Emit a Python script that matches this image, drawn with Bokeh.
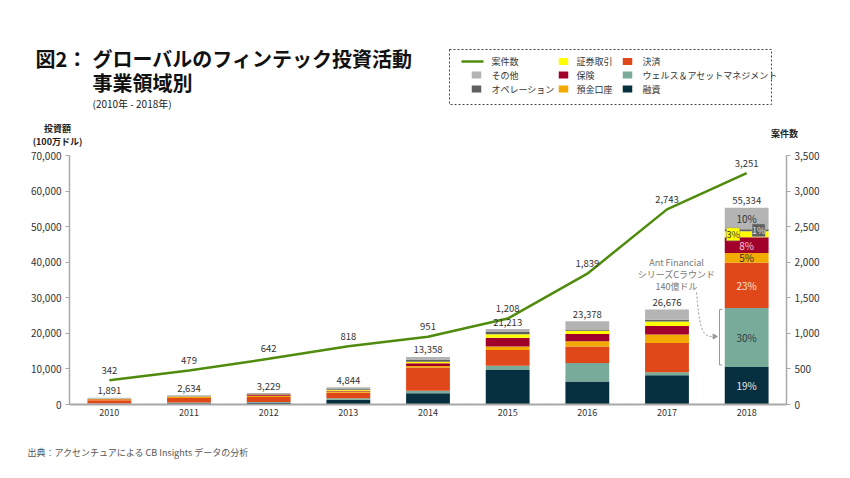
import math
from bokeh.plotting import figure
from bokeh.layouts import column, row
from bokeh.models import (Range1d, LinearAxis, FixedTicker, NumeralTickFormatter,
                          Label, ColumnDataSource)
from bokeh.core.properties import value
from bokeh.embed import file_html
from bokeh.resources import INLINE

# ---------------- data ----------------
years = [2010, 2011, 2012, 2013, 2014, 2015, 2016, 2017, 2018]
totals = [1891, 2634, 3229, 4844, 13358, 21213, 23378, 26676, 55334]
deal_counts = [342, 479, 642, 818, 951, 1208, 1839, 2743, 3251]

categories = ["融資", "ウェルス＆アセットマネジメント", "決済", "預金口座", "保険",
              "証券取引", "オペレーション", "その他"]
lending = [141, 334, 479, 1340, 3150, 9700, 6450, 8200, 10513]
wealth = [150, 200, 250, 450, 740, 1200, 5250, 900, 16600]
payments = [900, 1300, 1400, 1500, 6500, 4400, 4600, 8200, 12727]
deposits = [300, 250, 300, 350, 460, 1000, 1500, 2400, 2767]
insurance = [50, 100, 350, 200, 740, 2500, 2050, 2400, 4427]
securities = [50, 100, 100, 300, 460, 950, 900, 1200, 1660]
operations = [50, 50, 100, 250, 460, 750, 300, 500, 553]
others = [250, 300, 250, 454, 848, 713, 2328, 2876, 6087]
pct_2018 = ["19%", "30%", "23%", "5%", "8%", "3%", "1%", "10%"]
line_label = "案件数"

colors = ["#06303f", "#79ab9b", "#e0481a", "#f2a900", "#a1002b",
          "#ffff00", "#5f5f5f", "#b4b4b4"]
line_color = "#4f8b0c"
FONT = "Noto Sans CJK JP"

series = [lending, wealth, payments, deposits, insurance, securities, operations, others]
keys = ["s%d" % i for i in range(len(series))]
data = {"year": years}
for k, s in zip(keys, series):
    data[k] = s
src = ColumnDataSource(data)
color_of = dict(zip(categories, colors))

W = 834
TOP_H = 148
MAIN_H = 280
FOOT_H = 462 - TOP_H - MAIN_H


def blank_fig(h):
    f = figure(width=W, height=h, output_backend="svg", toolbar_location=None,
               x_range=Range1d(0, W), y_range=Range1d(h, 0),
               x_axis_type=None, y_axis_type=None,
               min_border_left=0, min_border_right=0, min_border_top=0,
               min_border_bottom=0)
    f.outline_line_color = None
    f.grid.visible = False
    return f


def lab(f, x, y, text, size, color="#222222", style="normal", align="left"):
    f.add_layout(Label(x=x, y=y, text=text, text_align=align, text_baseline="middle",
                       text_font=FONT, text_font_size=size, text_color=color,
                       text_font_style=style))

# ---------------- top: title + legend ----------------
top = blank_fig(TOP_H)
lab(top, 35, 58, "図2：", "20px", "#111111", "bold")
lab(top, 92, 58, "グローバルのフィンテック投資活動", "20px", "#111111", "bold")
lab(top, 92, 82, "事業領域別", "20px", "#111111", "bold")
lab(top, 92, 103, "(2010年 - 2018年)", "10px", "#222222")
lab(top, 57, 128, "投資額", "9px", "#222222", "bold", "center")
lab(top, 57, 141, "(100万ドル)", "9px", "#222222", "bold", "center")
lab(top, 784, 133, "案件数", "9px", "#222222", "bold", "center")

# legend (3 x 3 grid, column-major)
top.quad(left=[449], right=[771], top=[49], bottom=[104], fill_color="white",
         line_color="#444444", line_width=1, line_dash="2 2")
col_sw = [476, 563, 627]
col_tx = [491, 576, 642]
row_y = [61, 74.5, 88.5]
legend_order = [line_label, "その他", "オペレーション", "証券取引", "保険", "預金口座",
                "決済", "ウェルス＆アセットマネジメント", "融資"]
sx, sy, sc, tx, ty, tt = [], [], [], [], [], []
for n, name in enumerate(legend_order):
    c, r = divmod(n, 3)
    tx.append(col_tx[c]); ty.append(row_y[r]); tt.append(name)
    if name == line_label:
        top.line(x=[col_sw[c] - 15, col_sw[c] + 7], y=[row_y[r], row_y[r]],
                 line_color=line_color, line_width=2.5)
    else:
        sx.append(col_sw[c]); sy.append(row_y[r]); sc.append(color_of[name])
top.rect(x=sx, y=sy, width=9.5, height=7, fill_color=sc, line_color=None)
top.text(x=tx, y=ty, text=tt, text_baseline="middle", text_align="left",
         text_font=value(FONT), text_font_size="9px", text_color="#333333")

# ---------------- main chart ----------------
p = figure(width=W, height=MAIN_H, output_backend="svg", toolbar_location=None,
           x_range=Range1d(2009.5, 2018.5), y_range=Range1d(0, 70000),
           min_border_left=69, min_border_right=48, min_border_top=7,
           min_border_bottom=MAIN_H - 7 - 249)
p.outline_line_color = None
p.grid.visible = False
p.extra_y_ranges = {"count": Range1d(0, 3500)}

PXU = 717 / 9.0
PYU = 249 / 70000.0
def dx(px):
    return 2009.5 + (px - 69) / PXU
def dy(py):
    return (404 - py) / PYU

xa = p.xaxis[0]
xa.ticker = FixedTicker(ticks=years)
xa.major_tick_line_color = None
xa.major_tick_out = 0
xa.major_tick_in = 0
xa.minor_tick_line_color = None
xa.axis_line_color = "#a8a8a8"
xa.axis_line_width = 2
xa.major_label_text_font = FONT
xa.major_label_text_font_size = "9px"
xa.major_label_text_color = "#333333"
xa.major_label_standoff = 4

ya = p.yaxis[0]
ya.ticker = FixedTicker(ticks=list(range(0, 70001, 10000)))
ya.formatter = NumeralTickFormatter(format="0,0")
ra = LinearAxis(y_range_name="count", ticker=FixedTicker(ticks=list(range(0, 3501, 500))),
                formatter=NumeralTickFormatter(format="0,0"))
p.add_layout(ra, "right")
for ax in (ya, ra):
    ax.axis_line_color = "#a8a8a8"
    ax.axis_line_width = 1.5
    ax.major_tick_line_color = "#a8a8a8"
    ax.major_tick_in = 0
    ax.major_tick_out = 4
    ax.minor_tick_line_color = None
    ax.major_label_text_font = FONT
    ax.major_label_text_font_size = "10px"
    ax.major_label_text_color = "#333333"
    ax.major_label_standoff = 4

p.vbar_stack(keys, x="year", width=0.55, source=src, color=colors, line_color=None)
p.line(years, deal_counts, y_range_name="count", line_color=line_color, line_width=2.5)

p.text(x=years, y=deal_counts, text=["{:,}".format(v) for v in deal_counts],
       y_range_name="count", y_offset=-10, text_align="center", text_baseline="middle",
       text_font=value(FONT), text_font_size="9.5px", text_color="#333333")
p.text(x=years, y=totals, text=["{:,}".format(v) for v in totals], y_offset=-7,
       text_align="center", text_baseline="middle",
       text_font=value(FONT), text_font_size="9.5px", text_color="#333333")

# 2018 percent labels
last = [s[-1] for s in series]
cum = 0
pct_colors = ["#e6e6e6", "#2f3a3a", "#fbe3da", "#333333", "#f6c8d2", "#333333", "#e0e0e0", "#333333"]
for i, (v, t) in enumerate(zip(last, pct_2018)):
    center = cum + v / 2.0
    cum += v
    kw = dict(x=years[-1], y=center, text=t, text_align="center", text_baseline="middle",
              text_font=FONT, text_font_size="10px", text_color=pct_colors[i])
    if i == 5:
        kw.update(x=years[-1] - 0.17, text_font_size="9px", background_fill_color=colors[5],
                  padding=0, border_line_color="#888888", border_line_width=0.5)
    elif i == 6:
        kw.update(x=years[-1] + 0.15, text_font_size="9px", background_fill_color=colors[6],
                  padding=0, border_line_color="#cccccc", border_line_width=0.5)
    p.add_layout(Label(**kw))

# Ant Financial annotation
for txt, py in [("Ant Financial", 262), ("シリーズCラウンド", 274), ("140億ドル", 286)]:
    p.add_layout(Label(x=dx(676), y=dy(py), text=txt, text_align="center",
                       text_baseline="middle", text_font=FONT, text_font_size="9px",
                       text_color="#777777"))
p.bezier(x0=[dx(696)], y0=[dy(292)], x1=[dx(711)], y1=[dy(336)],
         cx0=[dx(699)], cy0=[dy(322)], cx1=[dx(700)], cy1=[dy(336)],
         line_color="#999999", line_width=1, line_dash="2 2")
p.scatter(x=[dx(714)], y=[dy(336)], marker="triangle", size=5, angle=-math.pi / 2,
          color="#999999")
teal_lo = lending[-1] + 600
teal_hi = lending[-1] + wealth[-1] - 400
bx = dx(719)
p.multi_line(xs=[[bx + 0.035, bx, bx, bx + 0.035]], ys=[[teal_hi, teal_hi, teal_lo, teal_lo]],
             line_color="#999999", line_width=1)

# ---------------- footer ----------------
foot = blank_fig(FOOT_H)
lab(foot, 27, 452 - TOP_H - MAIN_H, "出典：アクセンチュアによる CB Insights データの分析",
    "9px", "#555555")

layout = column(row(top), p, row(foot), spacing=0)
open("out.html", "w").write(file_html(layout, INLINE))
